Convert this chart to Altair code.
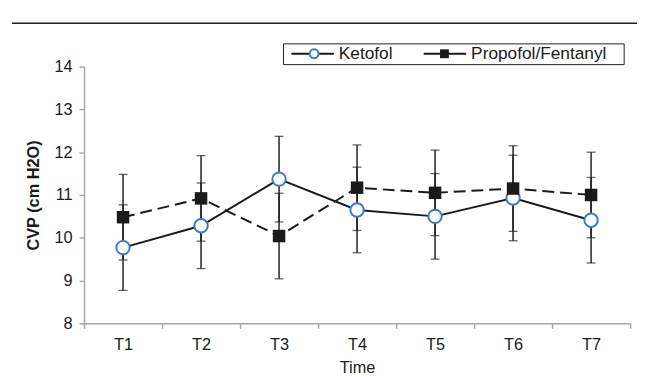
import altair as alt
import pandas as pd

times = ["T1", "T2", "T3", "T4", "T5", "T6", "T7"]
ketofol = [9.77, 10.28, 11.37, 10.65, 10.50, 10.93, 10.41]
ketofol_sd = [1.00, 1.00, 1.00, 1.00, 1.00, 1.00, 1.00]
propofol = [10.48, 10.92, 10.04, 11.17, 11.05, 11.15, 11.00]
propofol_sd = [1.00, 1.00, 1.00, 1.00, 1.00, 1.00, 1.00]
series_names = ["Ketofol", "Propofol/Fentanyl"]

rows = []
for t, m, s in zip(times, ketofol, ketofol_sd):
    rows.append({"time": t, "group": series_names[0], "mean": m, "lo": m - s, "hi": m + s})
for t, m, s in zip(times, propofol, propofol_sd):
    rows.append({"time": t, "group": series_names[1], "mean": m, "lo": m - s, "hi": m + s})
df = pd.DataFrame(rows)
dk = df[df.group == series_names[0]]
dp = df[df.group == series_names[1]]

FONT = "Liberation Sans"
W, H = 553, 260

xenc = alt.X("time:N", sort=times, title="Time",
             scale=alt.Scale(type="band", paddingInner=0, paddingOuter=0),
             axis=alt.Axis(labelAngle=0, tickBand="extent", labelPadding=9, titlePadding=6))
yenc_kw = dict(scale=alt.Scale(domain=[8, 14], nice=False),
               axis=alt.Axis(values=[8, 9, 10, 11, 12, 13, 14], title="CVP (cm H2O)",
                             titleFontWeight="bold", labelPadding=7, titlePadding=13))

err_color = "#222222"
def errs(d):
    rule = alt.Chart(d).mark_rule(color=err_color, strokeWidth=1.5).encode(
        x=xenc, y=alt.Y("lo:Q", **yenc_kw), y2="hi:Q")
    cap_lo = alt.Chart(d).mark_tick(color=err_color, size=9, thickness=1.3).encode(
        x=xenc, y=alt.Y("lo:Q", **yenc_kw))
    cap_hi = alt.Chart(d).mark_tick(color=err_color, size=9, thickness=1.3).encode(
        x=xenc, y=alt.Y("hi:Q", **yenc_kw))
    return [rule, cap_lo, cap_hi]

line_k = alt.Chart(dk).mark_line(color="#1a1a1a", strokeWidth=2).encode(
    x=xenc, y=alt.Y("mean:Q", **yenc_kw))
line_p = alt.Chart(dp).mark_line(color="#1a1a1a", strokeWidth=2, strokeDash=[12, 6]).encode(
    x=xenc, y=alt.Y("mean:Q", **yenc_kw))
pts_k = alt.Chart(dk).mark_point(shape="circle", size=185, filled=True, fill="white",
                                 stroke="#3d7cc4", strokeWidth=2, opacity=1).encode(
    x=xenc, y=alt.Y("mean:Q", **yenc_kw))
pts_p = alt.Chart(dp).mark_point(shape="square", size=160, filled=True, color="#1a1a1a",
                                 opacity=1).encode(
    x=xenc, y=alt.Y("mean:Q", **yenc_kw))

one = pd.DataFrame({"a": [0]})
LY = -13
top_rule = alt.Chart(one).mark_rule(color="#222222", strokeWidth=1.5).encode(
    x=alt.value(-73), x2=alt.value(561), y=alt.value(-44))
box = alt.Chart(one).mark_rect(fill="white", stroke="#222222", strokeWidth=1).encode(
    x=alt.value(202), x2=alt.value(547), y=alt.value(-23), y2=alt.value(-2))
leg_k_line = alt.Chart(one).mark_rule(color="#1a1a1a", strokeWidth=2).encode(
    x=alt.value(210), x2=alt.value(253), y=alt.value(LY))
leg_k_pt = alt.Chart(one).mark_point(shape="circle", size=80, filled=True, fill="white",
                                     stroke="#3d7cc4", strokeWidth=2, opacity=1).encode(
    x=alt.value(233), y=alt.value(LY))
leg_k_txt = alt.Chart(one).mark_text(align="left", baseline="middle", fontSize=17.5, font=FONT,
                                     color="#1a1a1a").encode(
    x=alt.value(258), y=alt.value(LY), text=alt.value(series_names[0]))
leg_p_line = alt.Chart(one).mark_rule(color="#1a1a1a", strokeWidth=2).encode(
    x=alt.value(344), x2=alt.value(387), y=alt.value(LY))
leg_p_pt = alt.Chart(one).mark_point(shape="square", size=80, filled=True, color="#1a1a1a",
                                     opacity=1).encode(
    x=alt.value(365), y=alt.value(LY))
leg_p_txt = alt.Chart(one).mark_text(align="left", baseline="middle", fontSize=17.5, font=FONT,
                                     color="#1a1a1a").encode(
    x=alt.value(392), y=alt.value(LY), text=alt.value(series_names[1]))

layers = errs(dk) + errs(dp) + [line_k, line_p, pts_k, pts_p,
                                top_rule, box, leg_k_line, leg_k_pt, leg_k_txt,
                                leg_p_line, leg_p_pt, leg_p_txt]

chart = alt.layer(*layers).properties(
    width=W, height=H,
    autosize=alt.AutoSizeParams(type="none"),
    padding={"left": 77, "top": 57, "right": 7, "bottom": 52},
).configure_view(stroke=None).configure_axis(
    labelFont=FONT, titleFont=FONT, labelFontSize=16.5, titleFontSize=16.5,
    labelColor="#1a1a1a", titleColor="#1a1a1a",
    domainColor="#a6a6a6", tickColor="#a6a6a6", domainWidth=1.5, tickWidth=1.5,
    tickSize=5, grid=False,
).configure_axisX(titleFontWeight="normal")

chart.save("out.html", embed_options={"renderer": "svg", "actions": False})
